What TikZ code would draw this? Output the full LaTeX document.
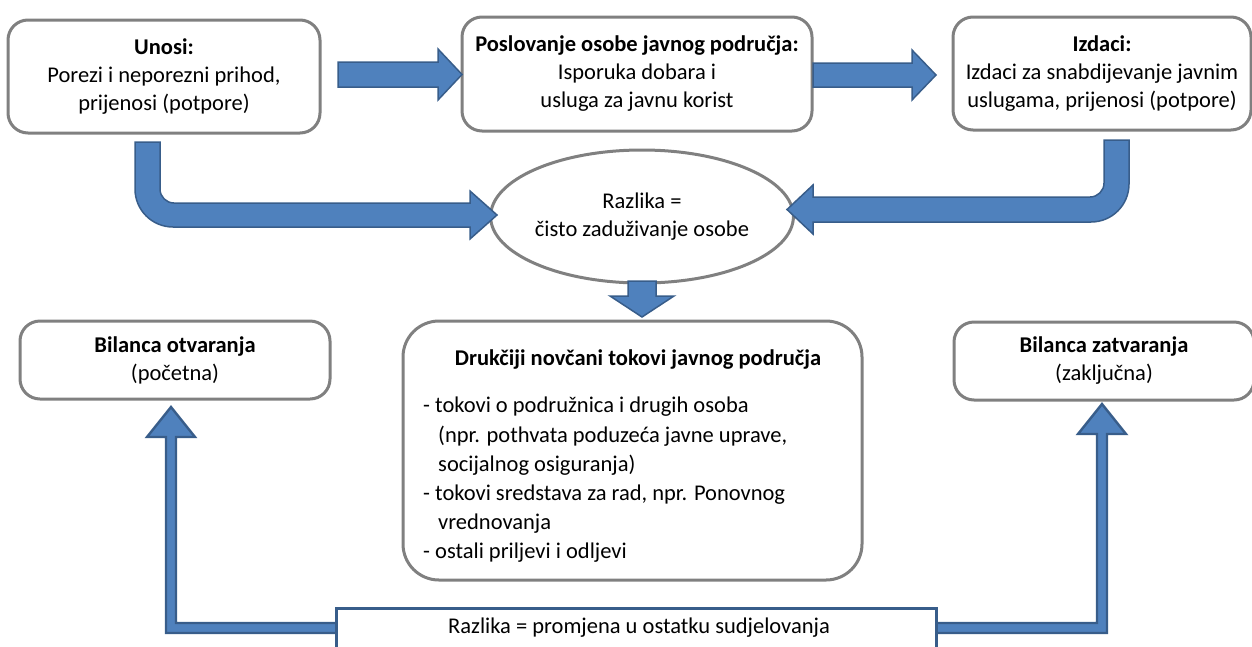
\documentclass[tikz,border=0pt]{standalone}
\usepackage{fontspec}
\setmainfont{Carlito}
\usetikzlibrary{shapes.geometric}
\definecolor{arrblue}{RGB}{79,129,189}
\definecolor{arrdark}{RGB}{56,93,138}
\definecolor{boxgray}{RGB}{128,128,128}
\tikzset{
  basefont/.style={font=\fontsize{22.5}{28}\selectfont},
  rbox/.style={draw=boxgray, line width=3pt, rounded corners=20pt, fill=white,
    inner sep=0pt, align=center, basefont},
  ebox/.style={ellipse, draw=boxgray, line width=3pt, fill=white, inner sep=0pt,
    align=center, basefont},
  barrow/.style={fill=arrblue, draw=arrdark, line width=1.5pt, line join=miter},
  tarrow/.style={fill=arrblue, draw=arrdark, line width=2.4pt, line join=miter},
  txt/.style={inner sep=0pt, basefont},
}
\begin{document}
\begin{tikzpicture}[x=1pt,y=-1pt]
\useasboundingbox (0,0) rectangle (1252,646);

% top row boxes
\node[rbox, minimum width=312pt, minimum height=113pt] (unosi) at (164,76.5)
  {\textbf{Unosi:}\\Porezi i neporezni prihod,\\prijenosi (potpore)};
\node[rbox, minimum width=350pt, minimum height=114pt] (posl) at (637,74)
  {\textbf{Poslovanje osobe javnog područja:}\\Isporuka dobara i\\usluga za javnu korist};
\node[rbox, minimum width=298pt, minimum height=113pt] (izd) at (1102,73.5)
  {\textbf{Izdaci:}\\Izdaci za snabdijevanje javnim\\uslugama, prijenosi (potpore)};

% ellipse
\node[ebox, minimum width=278pt, minimum height=133pt] (razl) at (642,216.5)
  {Razlika =\\čisto zaduživanje osobe};

% straight arrows
\draw[barrow] (338,62) -- (438,62) -- (438,49) -- (462,74.5) -- (438,100) -- (438,87) -- (338,87) -- cycle;
\draw[barrow] (813,63) -- (912,63) -- (912,50) -- (936,75) -- (912,100) -- (912,87) -- (813,87) -- cycle;
\draw[barrow] (628,281) -- (656,281) -- (656,296) -- (674,296) -- (642,317) -- (610,296) -- (628,296) -- cycle;

% bent arrows
\draw[barrow] (135,142) -- (160,142) -- (160,189) arc[start angle=180, end angle=90, radius=14]
  -- (470,203) -- (470,191) -- (497,215) -- (470,239) -- (470,227) -- (173,227)
  arc[start angle=90, end angle=180, radius=38] -- cycle;
\draw[barrow] (1129,140) -- (1104,140) -- (1104,183) arc[start angle=0, end angle=90, radius=14]
  -- (813,197) -- (813,185) -- (787,209.5) -- (813,234) -- (813,222) -- (1091,222)
  arc[start angle=90, end angle=0, radius=38] -- cycle;

% bottom row boxes
\node[rbox, minimum width=310pt, minimum height=78pt] (otv) at (175,360)
  {\textbf{Bilanca otvaranja}\\(početna)};
\node[rbox, minimum width=300pt, minimum height=78pt] (zat) at (1104,361)
  {\textbf{Bilanca zatvaranja}\\(zaključna)};
\node[rbox, rounded corners=36pt, minimum width=459pt, minimum height=259pt] (druk) at (632.5,450.5) {};
\node[txt] (drukh) at (638,360) {\textbf{Drukčiji novčani tokovi javnog područja}};
\node[txt, anchor=north west, align=left, font=\fontsize{22.5}{29.2}\selectfont] (drukl) at (423,397)
  {- tokovi o podružnica i drugih osoba\\
   \hspace*{15pt}(npr. pothvata poduzeća javne uprave,\\
   \hspace*{15pt}socijalnog osiguranja)\\
   - tokovi sredstava za rad, npr. Ponovnog\\
   \hspace*{15pt}vrednovanja\\
   - ostali priljevi i odljevi};

% thin arrows to balances
\draw[tarrow] (340,623) -- (176,623) -- (176,437) -- (195,437) -- (171,407) -- (147,437)
  -- (166,437) -- (166,633) -- (340,633) -- cycle;
\draw[tarrow] (930,623) -- (1097,623) -- (1097,434) -- (1078,434) -- (1102,404) -- (1126,434)
  -- (1107,434) -- (1107,633) -- (930,633) -- cycle;

% bottom rectangle
\node[draw=arrdark, line width=3pt, fill=white, inner sep=0pt, anchor=north west,
  minimum width=600pt, minimum height=60pt] (prom) at (335,607) {};
\node[txt] (promt) at (639,628) {Razlika = promjena u ostatku sudjelovanja};
\end{tikzpicture}
\end{document}
